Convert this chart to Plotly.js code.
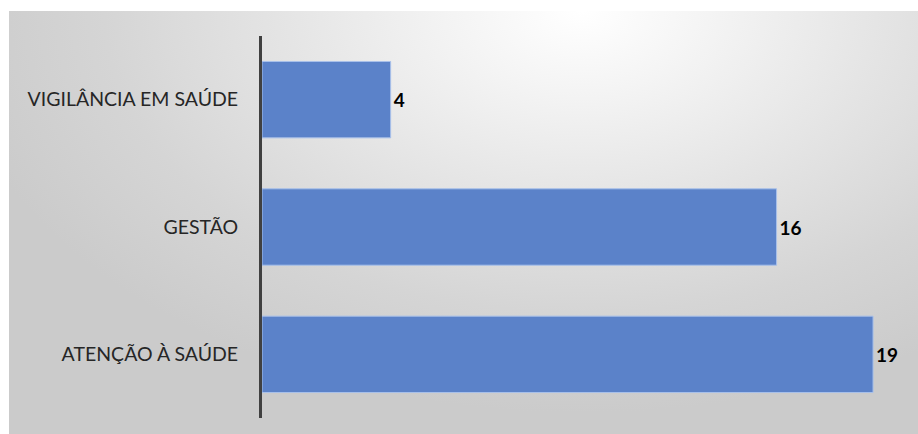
<!DOCTYPE html>
<html><head><meta charset="utf-8">
<script src="https://cdn.plot.ly/plotly-3.0.1.min.js"></script>
<style>
html,body{margin:0;padding:0;background:#fff;}
#wrap{position:relative;width:918px;height:434px;overflow:hidden;}
#bg{position:absolute;left:9px;top:11px;width:909px;height:423px;
background:radial-gradient(ellipse 70% 95% at 63% 0%, #ffffff 0%, #f4f4f4 20%, #e4e4e4 48%, #d5d5d5 75%, #cbcbcb 100%);}
#chart{position:absolute;left:0;top:0;width:918px;height:434px;}
</style></head>
<body><div id="wrap"><div id="bg"></div><div id="chart"></div></div>
<script>
const categories = ['ATENÇÃO À SAÚDE', 'GESTÃO', 'VIGILÂNCIA EM SAÚDE'];
const values = [19, 16, 4];

const trace = {
  type: 'bar', orientation: 'h',
  y: categories, x: values,
  marker: {color: '#5b82c9', line: {color: '#a9c1ea', width: 1}},
  text: values.map(String), textposition: 'outside', cliponaxis: false,
  textfont: {family: 'Lato, "Open Sans", sans-serif', size: 19, color: '#000', weight: 'bold'},
  hoverinfo: 'none'
};
const layout = {
  width: 918, height: 434,
  margin: {l: 262, r: 16, t: 36, b: 16},
  paper_bgcolor: 'rgba(0,0,0,0)', plot_bgcolor: 'rgba(0,0,0,0)',
  bargap: 0.40,
  showlegend: false,
  xaxis: {range: [0, 19.9], visible: false, showgrid: false, zeroline: false},
  yaxis: {type: 'category', showline: true, linecolor: '#404040', linewidth: 3,
    showgrid: false, zeroline: false, ticks: '', ticklabelstandoff: 17,
    tickfont: {family: 'Lato, "Open Sans", sans-serif', size: 19.5, color: '#262626'}}
};
Plotly.newPlot('chart', [trace], layout, {staticPlot: true, displayModeBar: false});
</script></body></html>
